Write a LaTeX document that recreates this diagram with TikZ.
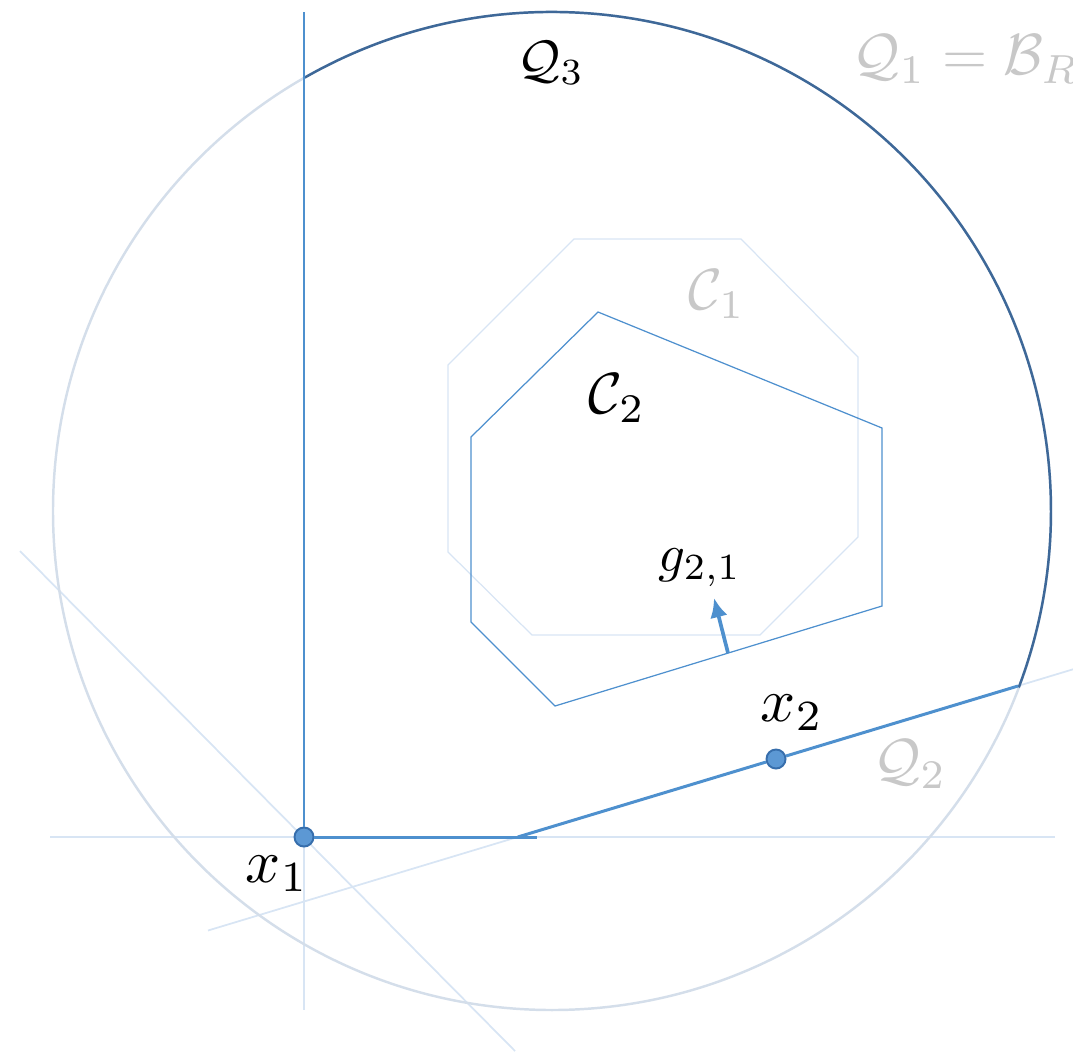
\documentclass[tikz,border=0pt]{standalone}
\usetikzlibrary{arrows.meta}
\definecolor{mainblue}{RGB}{78,144,206}
\definecolor{darkarc}{RGB}{62,104,152}
\definecolor{lightline}{RGB}{216,229,244}
\definecolor{lightcirc}{RGB}{212,222,234}
\definecolor{greytext}{RGB}{200,200,200}
\definecolor{dotfill}{RGB}{92,152,212}
\definecolor{dotdraw}{RGB}{55,110,172}
\begin{document}
\begin{tikzpicture}[x=0.01cm,y=-0.01cm,
  thinlight/.style={draw=lightline,line width=0.5pt},
  boldblue/.style={draw=mainblue,line width=0.85pt},
  polyblue/.style={draw=mainblue,line width=0.35pt},
  octa/.style={draw=lightline,line width=0.35pt},
  ptdot/.style={circle,fill=dotfill,draw=dotdraw,line width=0.55pt,inner sep=0pt,minimum size=0.19cm},
  lab/.style={inner sep=0pt,text=black},
  glab/.style={inner sep=0pt,text=greytext}]
\useasboundingbox (0,0) rectangle (1073,1051);
% coordinates
\coordinate (vtop) at (304,12);
\coordinate (vbot) at (304,1010);
\coordinate (hleft) at (50,837);
\coordinate (hright) at (1055,837);
\coordinate (hend) at (537,837);
\coordinate (dA) at (20,551);
\coordinate (dB) at (515,1051);
\coordinate (sA) at (208,930.5);
\coordinate (sB) at (1073,669.3);
\coordinate (sstart) at (517.7,837);
\coordinate (send) at (1018,686);
\coordinate (cc) at (552,511);
\coordinate (gA) at (728,653);
\coordinate (gB) at (714,598);
% light construction lines
\draw[thinlight] (vtop) -- (vbot);
\draw[thinlight] (hleft) -- (hright);
\draw[thinlight] (dA) -- (dB);
\draw[thinlight] (sA) -- (sB);
% circle
\draw[draw=lightcirc,line width=0.7pt] (cc) circle[radius=499];
\draw[draw=darkarc,line width=0.7pt] (cc) ++(-119.7:499) arc[start angle=-119.7,end angle=20.7,radius=499];
% C1 octagon
\draw[octa] (574,239) -- (741,239) -- (858,357) -- (858,537) -- (760,635) -- (532,635) -- (448,552) -- (448,365) -- cycle;
% C2 polygon
\draw[polyblue] (598,312) -- (882,428) -- (882,606) -- (555,706) -- (471,622) -- (471,437) -- cycle;
% points
\node[ptdot] (x1) at (304,837) {};
\node[ptdot] (x2) at (776,759) {};
% bold lines
\draw[boldblue] (x1) -- (vtop);
\draw[boldblue] (x1) -- (hend);
\draw[boldblue] (sstart) -- (x2);
\draw[boldblue] (x2) -- (send);
% arrow g
\draw[draw=mainblue,line width=1.05pt,-{Latex[length=5.5pt,width=5pt]}] (gA) -- (gB);
% labels
\node[lab,scale=1.5] (lq3) at (551,63) {$\mathcal{Q}_3$};
\node[glab,scale=1.65] (lq1) at (966,59) {$\mathcal{Q}_1=\mathcal{B}_R$};
\node[glab,scale=1.65] (lc1) at (717,294) {$\mathcal{C}_1$};
\node[lab,scale=1.65] (lc2) at (617,398) {$\mathcal{C}_2$};
\node[lab,scale=1.5] (lg) at (700,568) {$g_{2,1}$};
\node[lab,scale=1.75] (lx2) at (792,713) {$x_2$};
\node[glab,scale=1.65] (lq2) at (910,764) {$\mathcal{Q}_2$};
\node[lab,scale=1.75] (lx1) at (277,874) {$x_1$};
\end{tikzpicture}
\end{document}
